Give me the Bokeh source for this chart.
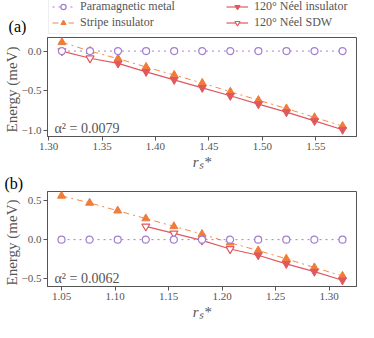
import math
from bokeh.plotting import figure
from bokeh.models import Legend, LegendItem, Label, FixedTicker
from bokeh.layouts import column
from bokeh.embed import file_html
from bokeh.resources import INLINE

# ---------------- data ----------------
labels = ["Paramagnetic metal", "Stripe insulator", "120° Néel insulator", "120° Néel SDW"]

# panel (a), alpha^2 = 0.0079
xa = [1.3125, 1.33875, 1.365, 1.39125, 1.4175, 1.44375, 1.47, 1.49625, 1.5225, 1.54875, 1.575]
para_a = [0.0, 0.0, 0.0, 0.0, 0.0, 0.0, 0.0, 0.0, 0.0, 0.0, 0.0]
stripe_a = [0.11, 0.00, -0.095, -0.20, -0.30, -0.40, -0.51, -0.615, -0.72, -0.83, -0.94]
stripe_err_a = [0.03, 0.03, 0.03, 0.03, 0.03, 0.03, 0.03, 0.03, 0.03, 0.03, 0.03]
sdw_x_a = [1.3125, 1.33875]
sdw_a = [0.0, -0.09]
ins_x_a = [1.365, 1.39125, 1.4175, 1.44375, 1.47, 1.49625, 1.5225, 1.54875, 1.575]
ins_a = [-0.155, -0.26, -0.36, -0.46, -0.56, -0.665, -0.765, -0.875, -0.985]
ins_err_a = [0.03, 0.03, 0.03, 0.03, 0.03, 0.03, 0.03, 0.03, 0.03]

# panel (b), alpha^2 = 0.0062
xb = [1.05, 1.07625, 1.1025, 1.12875, 1.155, 1.18125, 1.2075, 1.23375, 1.26, 1.28625, 1.3125]
para_b = [0.0, 0.0, 0.0, 0.0, 0.0, 0.0, 0.0, 0.0, 0.0, 0.0, 0.0]
stripe_b = [0.56, 0.47, 0.37, 0.27, 0.17, 0.07, -0.04, -0.14, -0.245, -0.357, -0.465]
stripe_err_b = [0.02, 0.02, 0.02, 0.02, 0.02, 0.03, 0.03, 0.03, 0.03, 0.03, 0.03]
sdw_x_b = [1.12875, 1.155, 1.18125, 1.2075]
sdw_b = [0.17, 0.08, -0.01, -0.12]
ins_x_b = [1.23375, 1.26, 1.28625, 1.3125]
ins_b = [-0.20, -0.31, -0.41, -0.52]
ins_err_b = [0.03, 0.03, 0.03, 0.03]

alpha_a = "α² = 0.0079"
alpha_b = "α² = 0.0062"
ylabel = "Energy (meV)"
xlabel = "rₛ*"

xticks_a = [1.30, 1.35, 1.40, 1.45, 1.50, 1.55]
xlabels_a = ["1.30", "1.35", "1.40", "1.45", "1.50", "1.55"]
yticks_a = [-1.0, -0.5, 0.0]
ylabels_a = ["−1.0", "−0.5", "0.0"]
xticks_b = [1.05, 1.10, 1.15, 1.20, 1.25, 1.30]
xlabels_b = ["1.05", "1.10", "1.15", "1.20", "1.25", "1.30"]
yticks_b = [-0.5, 0.0, 0.5]
ylabels_b = ["−0.5", "0.0", "0.5"]

# ---------------- style ----------------
FONT = "'Liberation Serif'"
GRAY = "#555555"
C_PARA = "#a27fd2"
C_STRIPE = "#f07c3a"
C_NEEL = "#e0585e"
W = 358
LEFT = 47
RIGHT = 2


def make_panel(height, top, bottom, xr, yr, xticks, xlabels, yticks, ylabels):
    p = figure(width=W, height=height, x_range=xr, y_range=yr,
               output_backend="svg", toolbar_location=None,
               min_border_left=LEFT, min_border_right=RIGHT,
               min_border_top=top, min_border_bottom=bottom)
    p.grid.visible = False
    p.outline_line_color = GRAY
    p.outline_line_width = 1
    for ax in (p.xaxis[0], p.yaxis[0]):
        ax.axis_line_color = GRAY
        ax.major_tick_line_color = GRAY
        ax.minor_tick_line_color = None
        ax.major_tick_in = 0
        ax.major_tick_out = 4
        ax.major_label_text_font = FONT
        ax.major_label_text_font_size = "11px"
        ax.major_label_text_color = GRAY
        ax.axis_label_text_font = FONT
        ax.axis_label_text_color = GRAY
        ax.major_label_standoff = 2
    p.xaxis.ticker = FixedTicker(ticks=xticks)
    p.xaxis.major_label_overrides = dict(zip(xticks, xlabels))
    p.yaxis.ticker = FixedTicker(ticks=yticks)
    p.yaxis.major_label_overrides = dict(zip(yticks, ylabels))
    p.xaxis.axis_label = xlabel
    p.xaxis.axis_label_text_font_size = "15px"
    p.xaxis.axis_label_text_font_style = "italic"
    p.xaxis.axis_label_standoff = 1
    return p


def draw(p, x, para, stripe, stripe_err, sdw_x, sdw, ins_x, ins, ins_err, bars=True):
    r = {}
    if bars:
        p.segment(x, [v - e for v, e in zip(stripe, stripe_err)], x,
                  [v + e for v, e in zip(stripe, stripe_err)], line_color=C_STRIPE, line_width=1.2)
    r["stripe_l"] = p.line(x, stripe, line_color=C_STRIPE, line_width=1, line_dash="dashdot", line_alpha=0.9)
    r["stripe_m"] = p.scatter(x, stripe, marker="triangle", size=8, fill_color=C_STRIPE, line_color=C_STRIPE)
    if bars:
        p.segment(ins_x, [v - e for v, e in zip(ins, ins_err)], ins_x,
                  [v + e for v, e in zip(ins, ins_err)], line_color=C_NEEL, line_width=1.2)
    r["neel_l"] = p.line(list(sdw_x) + list(ins_x), list(sdw) + list(ins), line_color=C_NEEL, line_width=1.2)
    r["ins_m"] = p.scatter(ins_x, ins, marker="inverted_triangle", size=8, fill_color=C_NEEL, line_color=C_NEEL)
    r["sdw_m"] = p.scatter(sdw_x, sdw, marker="inverted_triangle", size=8, fill_color="white",
                           line_color=C_NEEL, line_width=1.2)
    r["para_l"] = p.line(x, para, line_color=C_PARA, line_width=1, line_dash="dotted")
    r["para_m"] = p.scatter(x, para, marker="circle", size=7, fill_color="white",
                            line_color=C_PARA, line_width=1.2)
    return r


def energy_label(p, y):
    p.add_layout(Label(x=9, y=y, x_units="screen", y_units="screen", text=ylabel,
                       angle=math.pi / 2,
                       text_font=FONT, text_font_size="15px", text_color=GRAY,
                       text_align="center", text_baseline="middle"), "left")


def letter_label(p, letter, x, y):
    p.add_layout(Label(x=x, y=y, x_units="screen", y_units="screen", text=letter,
                       text_font=FONT, text_font_size="16px", text_color="black",
                       text_align="center", text_baseline="middle"), "left")


# ---- legend strip (own canvas; its data lie outside its ranges, only the legend shows)
LEG_H = 35
lf = figure(width=W, height=LEG_H, x_range=(0, 1), y_range=(0, 1),
            output_backend="svg", toolbar_location=None,
            x_axis_location=None, y_axis_location=None, min_border=0)
lf.grid.visible = False
lf.outline_line_color = None
rl = draw(lf, xa, para_a, stripe_a, stripe_err_a, sdw_x_a, sdw_a, ins_x_a, ins_a, ins_err_a, bars=False)
items = [
    LegendItem(label=labels[0], renderers=[rl["para_l"], rl["para_m"]]),
    LegendItem(label=labels[1], renderers=[rl["stripe_l"], rl["stripe_m"]]),
    LegendItem(label=labels[2], renderers=[rl["neel_l"], rl["ins_m"]]),
    LegendItem(label=labels[3], renderers=[rl["neel_l"], rl["sdw_m"]]),
]
leg = Legend(items=items, ncols=2, location=(1, 1), orientation="vertical",
             margin=0, padding=3, spacing=1, label_standoff=6, glyph_width=22, glyph_height=13,
             label_height=13, label_width=145,
             label_text_font=FONT, label_text_font_size="12px", label_text_color=GRAY,
             border_line_color="#dddddd", border_line_width=1, background_fill_alpha=1)
lf.add_layout(leg)
letter_label(lf, "(a)", -12, 9)

# ---- panel (a)
pa = make_panel(137, 2, 28, (1.299, 1.588), (-1.07, 0.17), xticks_a, xlabels_a, yticks_a, ylabels_a)
draw(pa, xa, para_a, stripe_a, stripe_err_a, sdw_x_a, sdw_a, ins_x_a, ins_a, ins_err_a)
energy_label(pa, 47)

# ---- panel (b)
pb = make_panel(150, 0, 32, (1.0369, 1.3256), (-0.60, 0.616), xticks_b, xlabels_b, yticks_b, ylabels_b)
pb.title.text = "(b)"
pb.title.align = "left"
pb.title.offset = -43
pb.title.standoff = 0
pb.title.text_font = FONT
pb.title.text_font_size = "16px"
pb.title.text_font_style = "normal"
pb.title.text_color = "black"
draw(pb, xb, para_b, stripe_b, stripe_err_b, sdw_x_b, sdw_b, ins_x_b, ins_b, ins_err_b)
energy_label(pb, 44)

for p, txt in ((pa, alpha_a), (pb, alpha_b)):
    p.add_layout(Label(x=7, y=1, x_units="screen", y_units="screen", text=txt,
                       text_font=FONT, text_font_size="14px", text_color=GRAY,
                       text_align="left", text_baseline="bottom"))

layout = column(lf, pa, pb, spacing=0)
open("out.html", "w").write(file_html(layout, INLINE))
